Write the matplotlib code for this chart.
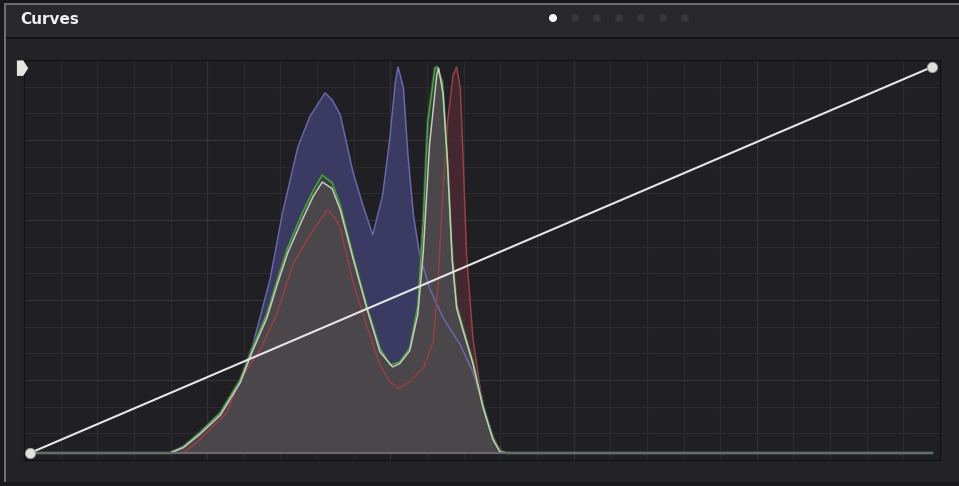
import matplotlib.pyplot as plt
import numpy as np
from matplotlib.patches import Rectangle, Ellipse, Polygon

### Histogram data (input level 0-1, relative count 0-1)
blue_x = [0, 0.160, 0.188, 0.211, 0.233, 0.247, 0.266, 0.280, 0.297, 0.310, 0.327, 0.335, 0.344,
          0.358, 0.369, 0.380, 0.391, 0.399, 0.405, 0.408, 0.414, 0.419, 0.425, 0.432, 0.443,
          0.458, 0.477, 0.491, 0.502, 0.513, 0.521, 0.530, 1]
blue_y = [0, 0, 0.052, 0.104, 0.189, 0.280, 0.448, 0.622, 0.793, 0.870, 0.933, 0.915, 0.876,
          0.728, 0.642, 0.565, 0.668, 0.816, 0.961, 1.0, 0.946, 0.772, 0.617, 0.513, 0.427,
          0.350, 0.280, 0.210, 0.124, 0.039, 0.003, 0, 0]

green_x = [0, 0.155, 0.170, 0.188, 0.211, 0.233, 0.247, 0.263, 0.274, 0.286, 0.302, 0.314, 0.324,
           0.335, 0.344, 0.358, 0.374, 0.388, 0.399, 0.410, 0.421, 0.430, 0.436, 0.441, 0.449,
           0.451, 0.457, 0.462, 0.468, 0.473, 0.480, 0.491, 0.502, 0.513, 0.521, 0.530, 1]
green_y = [0, 0, 0.016, 0.052, 0.104, 0.189, 0.275, 0.363, 0.448, 0.534, 0.622, 0.680, 0.720,
           0.700, 0.642, 0.513, 0.376, 0.272, 0.228, 0.236, 0.272, 0.383, 0.598, 0.858, 0.997,
           1.0, 0.961, 0.772, 0.513, 0.383, 0.324, 0.236, 0.124, 0.039, 0.003, 0, 0]

red_x = [0, 0.170, 0.188, 0.218, 0.233, 0.257, 0.274, 0.292, 0.314, 0.330, 0.338, 0.344, 0.358,
         0.374, 0.388, 0.399, 0.408, 0.421, 0.436, 0.447, 0.452, 0.458, 0.463, 0.469, 0.473,
         0.477, 0.480, 0.484, 0.491, 0.499, 0.507, 0.518, 0.524, 0.535, 1]
red_y = [0, 0, 0.034, 0.104, 0.189, 0.275, 0.363, 0.492, 0.578, 0.630, 0.609, 0.583, 0.443,
         0.324, 0.228, 0.184, 0.168, 0.184, 0.220, 0.288, 0.427, 0.687, 0.858, 0.979, 1.0,
         0.946, 0.772, 0.513, 0.298, 0.168, 0.080, 0.021, 0.003, 0, 0]

luma_x = [0, 0.155, 0.170, 0.188, 0.211, 0.233, 0.247, 0.263, 0.274, 0.286, 0.302, 0.314, 0.324,
          0.335, 0.344, 0.358, 0.374, 0.388, 0.402, 0.410, 0.421, 0.430, 0.436, 0.443, 0.451,
          0.453, 0.458, 0.463, 0.468, 0.473, 0.480, 0.491, 0.502, 0.513, 0.521, 0.530, 1]
luma_y = [0, 0, 0.014, 0.048, 0.098, 0.182, 0.266, 0.352, 0.436, 0.520, 0.605, 0.665, 0.702,
          0.685, 0.630, 0.505, 0.370, 0.262, 0.223, 0.232, 0.265, 0.360, 0.520, 0.800, 0.980,
          0.997, 0.930, 0.750, 0.500, 0.375, 0.318, 0.232, 0.120, 0.036, 0.003, 0, 0]

# Curve control points
curve_x = [0, 1]
curve_y = [0, 1]

title = "Curves"
n_pages = 7

### Figure
W, H = 959, 486
fig = plt.figure(figsize=(W / 100, H / 100), dpi=100)
fig.patch.set_facecolor('#19181c')

def px_rect(x0, y0, x1, y1, color):
    fig.patches.append(Rectangle((x0 / W, 1 - y1 / H), (x1 - x0) / W, (y1 - y0) / H,
                                 transform=fig.transFigure, facecolor=color,
                                 edgecolor='none', zorder=-5))

# panel background
px_rect(4, 3, W, 482, '#6e6d71')
px_rect(6, 5, W, 482, '#232227')
px_rect(6, 5, W, 37, '#29282d')
px_rect(6, 37, W, 39, '#141317')

fig.text(20 / W, 1 - 20 / H, title, color='#f2f2f2', fontsize=11, fontweight='bold',
         va='center', ha='left')

for i in range(n_pages):
    c = '#ffffff' if i == 0 else '#38373c'
    fig.patches.append(Ellipse(((553 + 22 * i) / W, 1 - 18 / H), 8 / W, 8 / H,
                               transform=fig.transFigure, facecolor=c, edgecolor='none',
                               zorder=2))

### Plot area (box 24..940 x 60..460 px, data 0..1 maps to 30..932 x 453..67)
box_l, box_r, box_t, box_b = 24, 940, 60, 460
ax = fig.add_axes([box_l / W, 1 - box_b / H, (box_r - box_l) / W, (box_b - box_t) / H])
ax.set_facecolor('#201f24')
x0 = -(30 - box_l) / 902
x1 = 1 + (box_r - 932) / 902
y0 = -(box_b - 453) / 386
y1 = 1 + (67 - box_t) / 386
ax.set_xlim(x0, x1)
ax.set_ylim(y0, y1)

# grid
for k in range(1, 25):
    gx = x0 + (x1 - x0) * k / 25
    ax.axvline(gx, color='#333238' if k % 5 == 0 else '#2b2a30', lw=0.9, zorder=0)
for k in range(1, 15):
    gy = y0 + (y1 - y0) * k / 15
    ax.axhline(gy, color='#35343a' if k % 3 == 0 else '#2a292f', lw=0.9, zorder=0)

for s in ax.spines.values():
    s.set_color('#141317')
    s.set_linewidth(1.0)
ax.set_xticks([])
ax.set_yticks([])

# channel fills
ax.fill_between(blue_x, blue_y, color='#3b3a62', lw=0, zorder=2)
ax.fill_between(red_x, red_y, color='#4a2a31', alpha=0.9, lw=0, zorder=2)
ax.fill_between(green_x, green_y, color='#2f4a33', alpha=0.6, lw=0, zorder=2)
ax.fill_between(luma_x, luma_y, color='#4a4649', lw=0, zorder=3)

# channel outlines
ax.plot(blue_x, blue_y, color='#6868aa', lw=1.1, zorder=4)
ax.plot(red_x, red_y, color='#944044', lw=1.1, zorder=4)
ax.plot(green_x, green_y, color='#2e5c2e', lw=2.2, zorder=4)
ax.plot(green_x, green_y, color='#5f9a5f', lw=0.9, zorder=5)
ax.plot(luma_x, luma_y, color='#c9c8bf', lw=1.1, zorder=6)

# baseline
ax.plot([0, 1], [0, 0], color='#6a696e', lw=1.5, zorder=6)

# curve
ax.plot(curve_x, curve_y, color='#e6e6e6', lw=1.5, zorder=7)
ax.scatter(curve_x, curve_y, s=55, color='#e2e2dc', edgecolor='#9a9a96', lw=0.6,
           zorder=8, clip_on=False)

# left handle tag
tag = Polygon([(-0.0145, 1.017), (-0.0075, 1.017), (-0.002, 0.997), (-0.0075, 0.977),
               (-0.0145, 0.977)], closed=True, facecolor='#e4e4e0', edgecolor='none',
              zorder=9, clip_on=False)
ax.add_patch(tag)

fig.savefig('out.png', dpi=100, facecolor=fig.get_facecolor())
